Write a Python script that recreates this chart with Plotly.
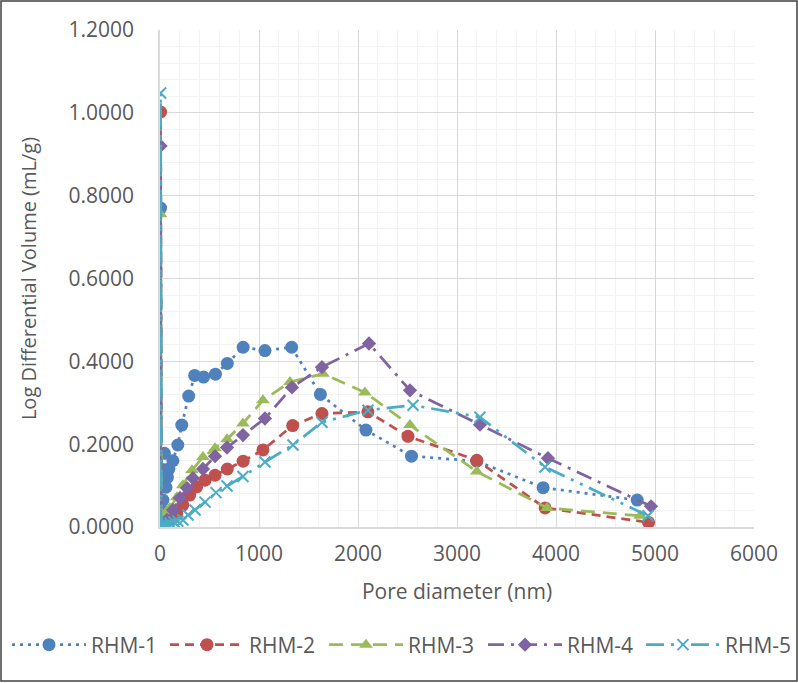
import plotly.graph_objects as go

# ---- data ----
series_names = ["RHM-1", "RHM-2", "RHM-3", "RHM-4", "RHM-5"]

rhm1_x = [3, 6, 12, 20, 30, 45, 60, 75, 90, 130, 180, 220, 290, 350, 440, 560, 680, 840, 1060, 1330, 1620, 2080, 2540, 3200, 3870, 4820]
rhm1_y = [0.005, 0.770, 0.020, 0.040, 0.065, 0.178, 0.096, 0.120, 0.140, 0.160, 0.198, 0.246, 0.316, 0.366, 0.362, 0.369, 0.395, 0.434, 0.426, 0.434, 0.320, 0.234, 0.171, 0.159, 0.095, 0.065]

rhm2_x = [3, 6, 15, 30, 50, 100, 170, 230, 300, 370, 455, 556, 680, 840, 1040, 1340, 1636, 2100, 2505, 3200, 3890, 4935]
rhm2_y = [0.003, 1.002, 0.010, 0.015, 0.020, 0.017, 0.034, 0.053, 0.077, 0.097, 0.113, 0.125, 0.140, 0.159, 0.186, 0.245, 0.274, 0.278, 0.219, 0.161, 0.046, 0.011]

rhm3_x = [3, 6, 15, 30, 60, 100, 170, 230, 323, 434, 556, 677, 838, 1040, 1313, 1646, 2070, 2525, 3200, 3910, 4850]
rhm3_y = [0.003, 0.755, 0.010, 0.024, 0.035, 0.046, 0.072, 0.101, 0.137, 0.169, 0.190, 0.212, 0.250, 0.306, 0.350, 0.370, 0.325, 0.246, 0.134, 0.046, 0.027]

rhm4_x = [3, 6, 15, 30, 70, 131, 202, 273, 333, 434, 556, 677, 838, 1060, 1333, 1636, 2111, 2525, 3232, 3919, 4960]
rhm4_y = [0.003, 0.920, 0.005, 0.008, 0.017, 0.041, 0.070, 0.094, 0.118, 0.140, 0.171, 0.192, 0.222, 0.262, 0.337, 0.386, 0.443, 0.330, 0.247, 0.166, 0.050]

rhm5_x = [3, 6, 15, 40, 70, 100, 140, 180, 232, 283, 354, 455, 566, 677, 838, 1060, 1343, 1636, 2101, 2556, 3232, 3889, 4929]
rhm5_y = [0.002, 1.048, 0.003, 0.004, 0.006, 0.009, 0.012, 0.014, 0.017, 0.029, 0.041, 0.060, 0.083, 0.099, 0.122, 0.157, 0.198, 0.253, 0.282, 0.294, 0.265, 0.145, 0.027]

x_ticks = [0, 1000, 2000, 3000, 4000, 5000, 6000]
y_ticks = [0.0, 0.2, 0.4, 0.6, 0.8, 1.0, 1.2]

# ---- styles ----
colors = ["#4F81BD", "#C0504D", "#9BBB59", "#8064A2", "#4BACC6"]
dashes = ["3px,5px", "9px,6px", "14px,8px", "16px,7px,3px,7px", "18px,7px,3px,7px,3px,7px"]
symbols = ["circle", "circle", "triangle-up", "diamond", "x-thin"]
sizes = [13, 13, 12, 11, 11]
legend_px = [7, 165, 324, 483, 641]   # left pixel of each legend entry

xs = [rhm1_x, rhm2_x, rhm3_x, rhm4_x, rhm5_x]
ys = [rhm1_y, rhm2_y, rhm3_y, rhm4_y, rhm5_y]

W, H = 798, 683
L, R, T, B = 160, 44, 30, 156
pw, ph = W - L - R, H - T - B

font_color = "#595959"
fam = "Open Sans"

fig = go.Figure()
legend_layouts = {}
for i, name in enumerate(series_names):
    marker = dict(symbol=symbols[i], size=sizes[i], color=colors[i])
    if symbols[i] == "x-thin":
        marker["line"] = dict(color=colors[i], width=2)
    else:
        marker["line"] = dict(width=0)
    lg = "legend" if i == 0 else "legend%d" % (i + 1)
    fig.add_trace(go.Scatter(
        x=xs[i], y=ys[i], name=name, mode="lines+markers",
        line=dict(color=colors[i], width=2.75, dash=dashes[i]),
        marker=marker, legend=lg,
    ))
    legend_layouts[lg] = dict(
        orientation="h", x=(legend_px[i] - L) / pw, xanchor="left",
        y=(T + ph - 645) / ph, yanchor="middle",
        font=dict(family=fam, size=21, color=font_color),
        itemwidth=74, bgcolor="rgba(0,0,0,0)",
    )

fig.update_layout(
    width=W, height=H,
    margin=dict(l=L, r=R, t=T, b=B, autoexpand=False),
    paper_bgcolor="white", plot_bgcolor="white",
    font=dict(family=fam, size=21, color=font_color),
    showlegend=True,
    xaxis=dict(
        range=[0, 6000], tickvals=x_ticks, ticktext=[str(v) for v in x_ticks],
        showgrid=True, gridcolor="#D9D9D9", gridwidth=1,
        minor=dict(dtick=200, showgrid=True, gridcolor="#F2F2F2", gridwidth=1),
        showline=True, linecolor="#D9D9D9", linewidth=1.5,
        zeroline=False, ticks="", ticklabelstandoff=7, automargin=False,
        title=dict(text="Pore diameter (nm)", standoff=18,
                   font=dict(family=fam, size=21, color=font_color)),
    ),
    yaxis=dict(
        range=[0, 1.2], tickvals=y_ticks, ticktext=["%.4f" % v for v in y_ticks],
        showgrid=True, gridcolor="#D9D9D9", gridwidth=1,
        minor=dict(dtick=0.04, showgrid=True, gridcolor="#F2F2F2", gridwidth=1),
        showline=True, linecolor="#D9D9D9", linewidth=1.5,
        zeroline=False, ticks="", ticklabelstandoff=20, automargin=False,
        title=dict(text="Log Differential Volume (mL/g)", standoff=26,
                   font=dict(family=fam, size=20, color=font_color)),
    ),
    shapes=[dict(
        type="rect", xref="paper", yref="paper",
        x0=(1 - L) / pw, x1=(W - 1 - L) / pw,
        y0=(T + ph - (H - 2)) / ph, y1=(T + ph - 1) / ph,
        line=dict(color="#404040", width=1.5), fillcolor="rgba(0,0,0,0)",
        layer="below",
    )],
    **legend_layouts,
)

fig.write_html("out.html")
